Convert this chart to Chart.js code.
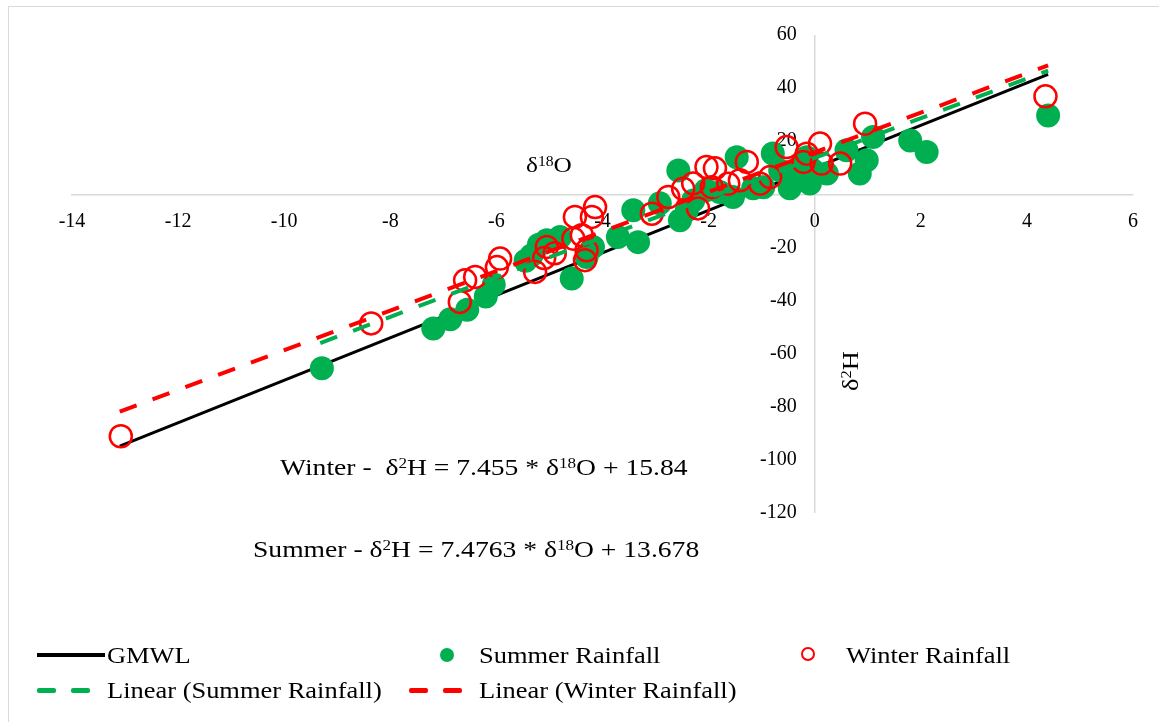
<!DOCTYPE html>
<html>
<head>
<meta charset="utf-8">
<script src="https://cdn.jsdelivr.net/npm/chart.js@4.4.0/dist/chart.umd.min.js"></script>
<style>
  body { margin: 0; background: #fff; }
  #wrap { position: relative; width: 1159px; height: 722px; overflow: hidden;
          font-family: "Liberation Serif", "Times New Roman", serif; color: #000; }
  #frame { position: absolute; left: 8px; top: 6px; right: -2px; bottom: -2px;
           border-left: 1px solid #d9d9d9; border-top: 1px solid #d9d9d9; }
  #chart { position: absolute; left: 0; top: 0; }
  .txt { position: absolute; white-space: nowrap; line-height: 1;
         transform-origin: 0 50%; transform: scaleX(1.15); }
  .txt sup { font-size: 62%; vertical-align: 0; position: relative; top: -0.45em; }
  .eq { font-size: 24px; }
  .leg { font-size: 23px; }
  .ico { position: absolute; }
</style>
</head>
<body>
<div id="wrap">
  <div id="frame"></div>
  <canvas id="chart" width="1159" height="722"></canvas>

  <div class="txt" style="left:526px;top:154px;font-size:22px;">δ<sup>18</sup>O</div>
  <div class="txt" style="left:838px;top:365px;font-size:24px;transform-origin:0 0;transform:rotate(-90deg) translate(-26px,0) scaleX(1.1);">δ<sup>2</sup>H</div>

  <div class="txt eq" style="left:280px;top:455px;">Winter -&nbsp; δ<sup>2</sup>H = 7.455 * δ<sup>18</sup>O + 15.84</div>
  <div class="txt eq" style="left:253px;top:537px;">Summer - δ<sup>2</sup>H = 7.4763 * δ<sup>18</sup>O + 13.678</div>

  <!-- legend -->
  <div class="ico" style="left:37px;top:653px;width:68px;height:4px;background:#000;"></div>
  <div class="txt leg" style="left:107px;top:644px;">GMWL</div>
  <div class="ico" style="left:440px;top:648px;width:14px;height:14px;border-radius:50%;background:#00b050;"></div>
  <div class="ico" style="left:801px;top:647px;width:10px;height:10px;border-radius:50%;border:2.5px solid #ff0000;"></div>
  <div class="txt leg" style="left:479px;top:644px;">Summer Rainfall</div>
  <div class="txt leg" style="left:846px;top:644px;">Winter Rainfall</div>

  <div class="ico" style="left:37px;top:688px;width:19px;height:5px;background:#00b050;border-radius:2px;"></div>
  <div class="ico" style="left:71px;top:688px;width:19px;height:5px;background:#00b050;border-radius:2px;"></div>
  <div class="txt leg" style="left:107px;top:679px;">Linear (Summer Rainfall)</div>
  <div class="ico" style="left:409px;top:688px;width:19px;height:5px;background:#ff0000;border-radius:2px;"></div>
  <div class="ico" style="left:443px;top:688px;width:19px;height:5px;background:#ff0000;border-radius:2px;"></div>
  <div class="txt leg" style="left:479px;top:679px;">Linear (Winter Rainfall)</div>
</div>

<script>
'use strict';

// axis ticks
const xTicks = [-14, -12, -10, -8, -6, -4, -2, 0, 2, 4, 6];
const yTicks = [-120, -100, -80, -60, -40, -20, 0, 20, 40, 60];

// summer rainfall samples (d18O, d2H)
const summerX = [-9.29, -7.19, -6.87, -6.55, -6.20, -6.05, -5.45, -5.34, -5.20, -5.05, -4.80, -4.58,
                 -4.30, -4.18, -3.71, -3.42, -3.33, -2.92, -2.57, -2.54, -2.41, -2.29, -2.05, -1.79,
                 -1.54, -1.47, -1.16, -0.97, -0.79, -0.65, -0.47, -0.28, -0.28, -0.15, -0.09, -0.03,
                 0.23, 0.60, 0.85, 0.98, 1.10, 1.80, 2.11, 4.40];
const summerY = [-65.5, -50.5, -47.0, -43.5, -38.5, -34.0, -25.0, -23.0, -19.0, -17.3, -16.1, -31.7,
                 -23.6, -19.8, -16.1, -6.0, -18.0, -3.4, 9.0, -9.8, -6.0, -2.3, 1.5, 0.9,
                 -1.0, 14.0, 2.3, 2.7, 15.4, 9.0, 2.3, 6.5, 10.3, 14.0, 4.1, 9.0,
                 7.8, 16.6, 7.8, 12.8, 21.6, 20.3, 15.9, 29.7];

// winter rainfall samples (d18O, d2H)
const winterX = [-13.08, -8.36, -6.69, -6.59, -6.40, -5.99, -5.93, -5.27, -5.10, -5.05, -4.90, -4.55,
                 -4.52, -4.39, -4.33, -4.30, -4.20, -4.14, -3.07, -2.76, -2.48, -2.29, -2.20, -2.04,
                 -1.94, -1.88, -1.63, -1.41, -1.28, -1.03, -0.84, -0.53, -0.21, -0.15, 0.10, 0.13,
                 0.48, 0.95, 4.35];
const winterY = [-91.1, -48.6, -40.5, -32.4, -31.1, -27.4, -24.2, -29.2, -24.0, -19.8, -22.2, -16.7,
                 -8.5, -15.4, -24.8, -21.1, -8.5, -4.8, -7.3, -1.0, 2.1, 4.1, -5.3, 10.3,
                 2.7, 9.8, 4.0, 5.3, 12.2, 4.0, 6.5, 17.8, 12.2, 15.3, 19.1, 11.6,
                 11.6, 26.6, 36.9];

// line end points
const gmwlX = [-13.1, 4.4];
const gmwlY = [-94.8, 45.2];
const summerFitX = [-9.32, 4.40];
const summerFitY = [-56.0, 46.6];
const winterFitX = [-13.1, 4.40];
const winterFitY = [-81.8, 48.6];

const GREEN = '#00b050';
const RED = '#ff0000';
const AXIS = '#d9d9d9';
const FONT = '"Liberation Serif", "Times New Roman", serif';

function pts(xs, ys) {
  return xs.map((x, i) => ({ x, y: ys[i] }));
}

function fixedTicks(list) {
  return scale => { scale.ticks = list.map(v => ({ value: v })); };
}

new Chart(document.getElementById('chart'), {
  type: 'scatter',
  data: {
    datasets: [
      { label: 'GMWL', data: pts(gmwlX, gmwlY), showLine: true, borderColor: '#000',
        borderWidth: 3, pointRadius: 0, order: 5 },
      { label: 'Summer Rainfall', data: pts(summerX, summerY), backgroundColor: GREEN,
        borderWidth: 0, pointRadius: 12, order: 4 },
      { label: 'Winter Rainfall', data: pts(winterX, winterY), backgroundColor: 'rgba(255,255,255,0)',
        borderColor: RED, borderWidth: 2.5, pointRadius: 11, order: 3 },
      { label: 'Linear (Summer Rainfall)', data: pts(summerFitX, summerFitY), showLine: true,
        borderColor: GREEN, borderWidth: 4, borderDash: [18, 17], pointRadius: 0, order: 2 },
      { label: 'Linear (Winter Rainfall)', data: pts(winterFitX, winterFitY), showLine: true,
        borderColor: RED, borderWidth: 4, borderDash: [18, 17], pointRadius: 0, order: 1 },
    ],
  },
  options: {
    responsive: false,
    animation: false,
    layout: { padding: { left: 72, right: 26, top: 35, bottom: 209 } },
    plugins: { legend: { display: false }, tooltip: { enabled: false } },
    scales: {
      x: {
        type: 'linear', position: { y: 0 }, min: -14, max: 6,
        afterBuildTicks: fixedTicks(xTicks),
        // only the zero grid line is kept: it is the vertical axis line
        grid: { drawOnChartArea: true, drawTicks: false, lineWidth: 1.5,
                color: ctx => (ctx.tick && ctx.tick.value === 0 ? AXIS : 'rgba(0,0,0,0)') },
        border: { color: AXIS, width: 1.5 },
        ticks: { color: '#000', font: { family: FONT, size: 20 }, padding: 15,
                 maxRotation: 0, autoSkip: false },
      },
      y: {
        // labels sit a little left of the zero line
        type: 'linear', position: { x: -0.34 }, min: -120, max: 60,
        afterBuildTicks: fixedTicks(yTicks),
        grid: { drawOnChartArea: false, drawTicks: false },
        border: { display: false },
        ticks: { color: '#000', font: { family: FONT, size: 20 }, autoSkip: false },
      },
    },
  },
});
</script>
</body>
</html>
